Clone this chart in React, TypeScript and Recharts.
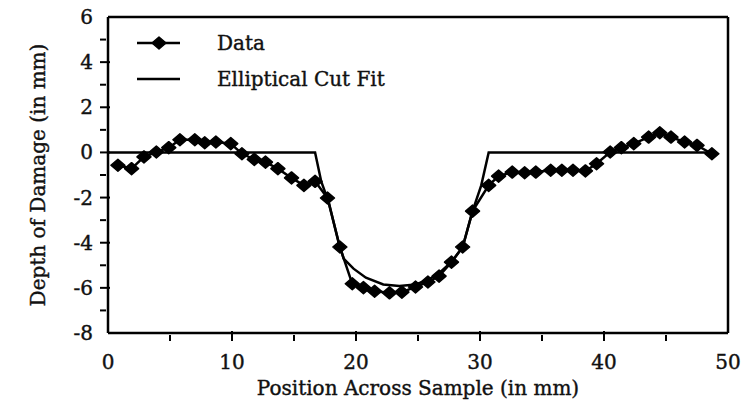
import { LineChart, Line, XAxis, YAxis, ReferenceLine } from "recharts";

const dataX = [
  0.8, 1.9, 2.9, 3.9, 4.9, 5.8, 7.0, 7.8, 8.7, 9.9, 10.8, 11.8, 12.7, 13.7, 14.8, 15.8, 16.7, 17.7,
  18.7, 19.7, 20.6, 21.5, 22.7, 23.7, 24.8, 25.8, 26.7, 27.7, 28.6, 29.4, 30.7, 31.5, 32.6, 33.6,
  34.5, 35.7, 36.6, 37.5, 38.5, 39.4, 40.5, 41.4, 42.4, 43.6, 44.5, 45.4, 46.5, 47.5, 48.7,
];
const dataY = [
  -0.57, -0.72, -0.2, 0.02, 0.21, 0.56, 0.56, 0.43, 0.46, 0.39, -0.06, -0.31, -0.43, -0.72, -1.13,
  -1.46, -1.28, -2.02, -4.19, -5.82, -5.99, -6.15, -6.22, -6.19, -5.96, -5.74, -5.48, -4.86, -4.19,
  -2.6, -1.46, -1.05, -0.87, -0.9, -0.87, -0.79, -0.79, -0.79, -0.82, -0.5, 0.02, 0.21, 0.39, 0.68,
  0.87, 0.68, 0.46, 0.31, -0.06,
];

const fitX = [
  0, 16.7, 17.2, 17.8, 18.6, 19.0, 19.8, 20.8, 22.2, 23.5, 24.8, 25.8, 26.7, 27.7, 28.6, 29.4, 30.1,
  30.7, 48.7,
];
const fitY = [
  0, 0, -1.3, -2.2, -4.0, -4.7, -5.15, -5.55, -5.85, -5.92, -5.85, -5.65, -5.35, -4.85, -4.2, -2.6,
  -1.46, 0, 0,
];

const xTicks = [0, 5, 10, 15, 20, 25, 30, 35, 40, 45, 50];
const yTicks = [-8, -7, -6, -5, -4, -3, -2, -1, 0, 1, 2, 3, 4, 5, 6];

const seriesNames = ["Data", "Elliptical Cut Fit"];

const dataPoints = dataX.map((x, i) => ({ x, y: dataY[i] }));
const fitPoints = fitX.map((x, i) => ({ x, y: fitY[i] }));

const FONT = "'DejaVu Serif', 'Liberation Serif', serif";
const textStyle = { fontFamily: FONT, fontSize: 20, fill: "#111", stroke: "#111", strokeWidth: 0.4 };

const Diamond = (props: any) => {
  const { cx, cy } = props;
  if (cx == null || cy == null) return null;
  return (
    <polygon
      points={`${cx - 7},${cy} ${cx},${cy - 6} ${cx + 7},${cy} ${cx},${cy + 6}`}
      fill="#000"
      stroke="#000"
      strokeWidth={1.5}
      strokeLinejoin="round"
    />
  );
};

const XTick = (props: any) => {
  const { x, y, payload } = props;
  const major = payload.value % 10 === 0;
  const isEdge = payload.value === 0 || payload.value === 50;
  return (
    <g>
      {!isEdge && (
        <line x1={x} x2={x} y1={y} y2={y - (major ? 10 : 6)} stroke="#000" strokeWidth={2} />
      )}
      {major && (
        <text x={x} y={y + 28} textAnchor="middle" style={textStyle}>
          {payload.value}
        </text>
      )}
    </g>
  );
};

const YTick = (props: any) => {
  const { x, y, payload } = props;
  const major = payload.value % 2 === 0;
  const isEdge = payload.value === 6 || payload.value === -8;
  return (
    <g>
      {!isEdge && (
        <line x1={x} x2={x + (major ? 10 : 6)} y1={y} y2={y} stroke="#000" strokeWidth={2} />
      )}
      {major && (
        <text x={x - 7} y={y + 7} textAnchor="end" style={textStyle}>
          {payload.value}
        </text>
      )}
    </g>
  );
};

const ChartLegend = () => (
  <svg width={320} height={90} style={{ position: "absolute", left: 137, top: 28, overflow: "visible" }}>
    {seriesNames.map((name, i) => (
      <g key={name}>
        <line x1={0} x2={43} y1={15 + i * 36} y2={15 + i * 36} stroke="#000" strokeWidth={2.5} />
        {i === 0 && <Diamond cx={22} cy={15} />}
        <text x={80} y={22 + i * 36} style={textStyle}>
          {name}
        </text>
      </g>
    ))}
  </svg>
);

export default function App() {
  return (
    <div style={{ position: "absolute", left: 0, top: 0, width: 745, height: 406, background: "#fff" }}>
      <LineChart width={745} height={406} margin={{ top: 17, right: 17, left: 0, bottom: 0 }}>
        <XAxis
          dataKey="x"
          type="number"
          domain={[0, 50]}
          ticks={xTicks}
          interval={0}
          height={73}
          axisLine={{ stroke: "#000", strokeWidth: 2.5 }}
          tickLine={false}
          tick={<XTick />}
          label={{
            value: "Position Across Sample (in mm)",
            position: "insideBottom",
            offset: 11,
            style: { ...textStyle, textAnchor: "middle" },
          }}
        />
        <YAxis
          dataKey="y"
          type="number"
          domain={[-8, 6]}
          ticks={yTicks}
          interval={0}
          width={108}
          axisLine={{ stroke: "#000", strokeWidth: 2.5 }}
          tickLine={false}
          tick={<YTick />}
          label={{
            value: "Depth of Damage (in mm)",
            angle: -90,
            position: "insideLeft",
            offset: 38,
            style: { ...textStyle, textAnchor: "middle" },
          }}
        />
        <ReferenceLine y={6} stroke="#000" strokeWidth={2.5} />
        <ReferenceLine x={50} stroke="#000" strokeWidth={2.5} />
        <Line
          data={fitPoints}
          dataKey="y"
          name={seriesNames[1]}
          type="linear"
          stroke="#000"
          strokeWidth={2.5}
          dot={false}
          isAnimationActive={false}
        />
        <Line
          data={dataPoints}
          dataKey="y"
          name={seriesNames[0]}
          type="linear"
          stroke="#000"
          strokeWidth={2.5}
          dot={<Diamond />}
          isAnimationActive={false}
        />
      </LineChart>
      <ChartLegend />
    </div>
  );
}
